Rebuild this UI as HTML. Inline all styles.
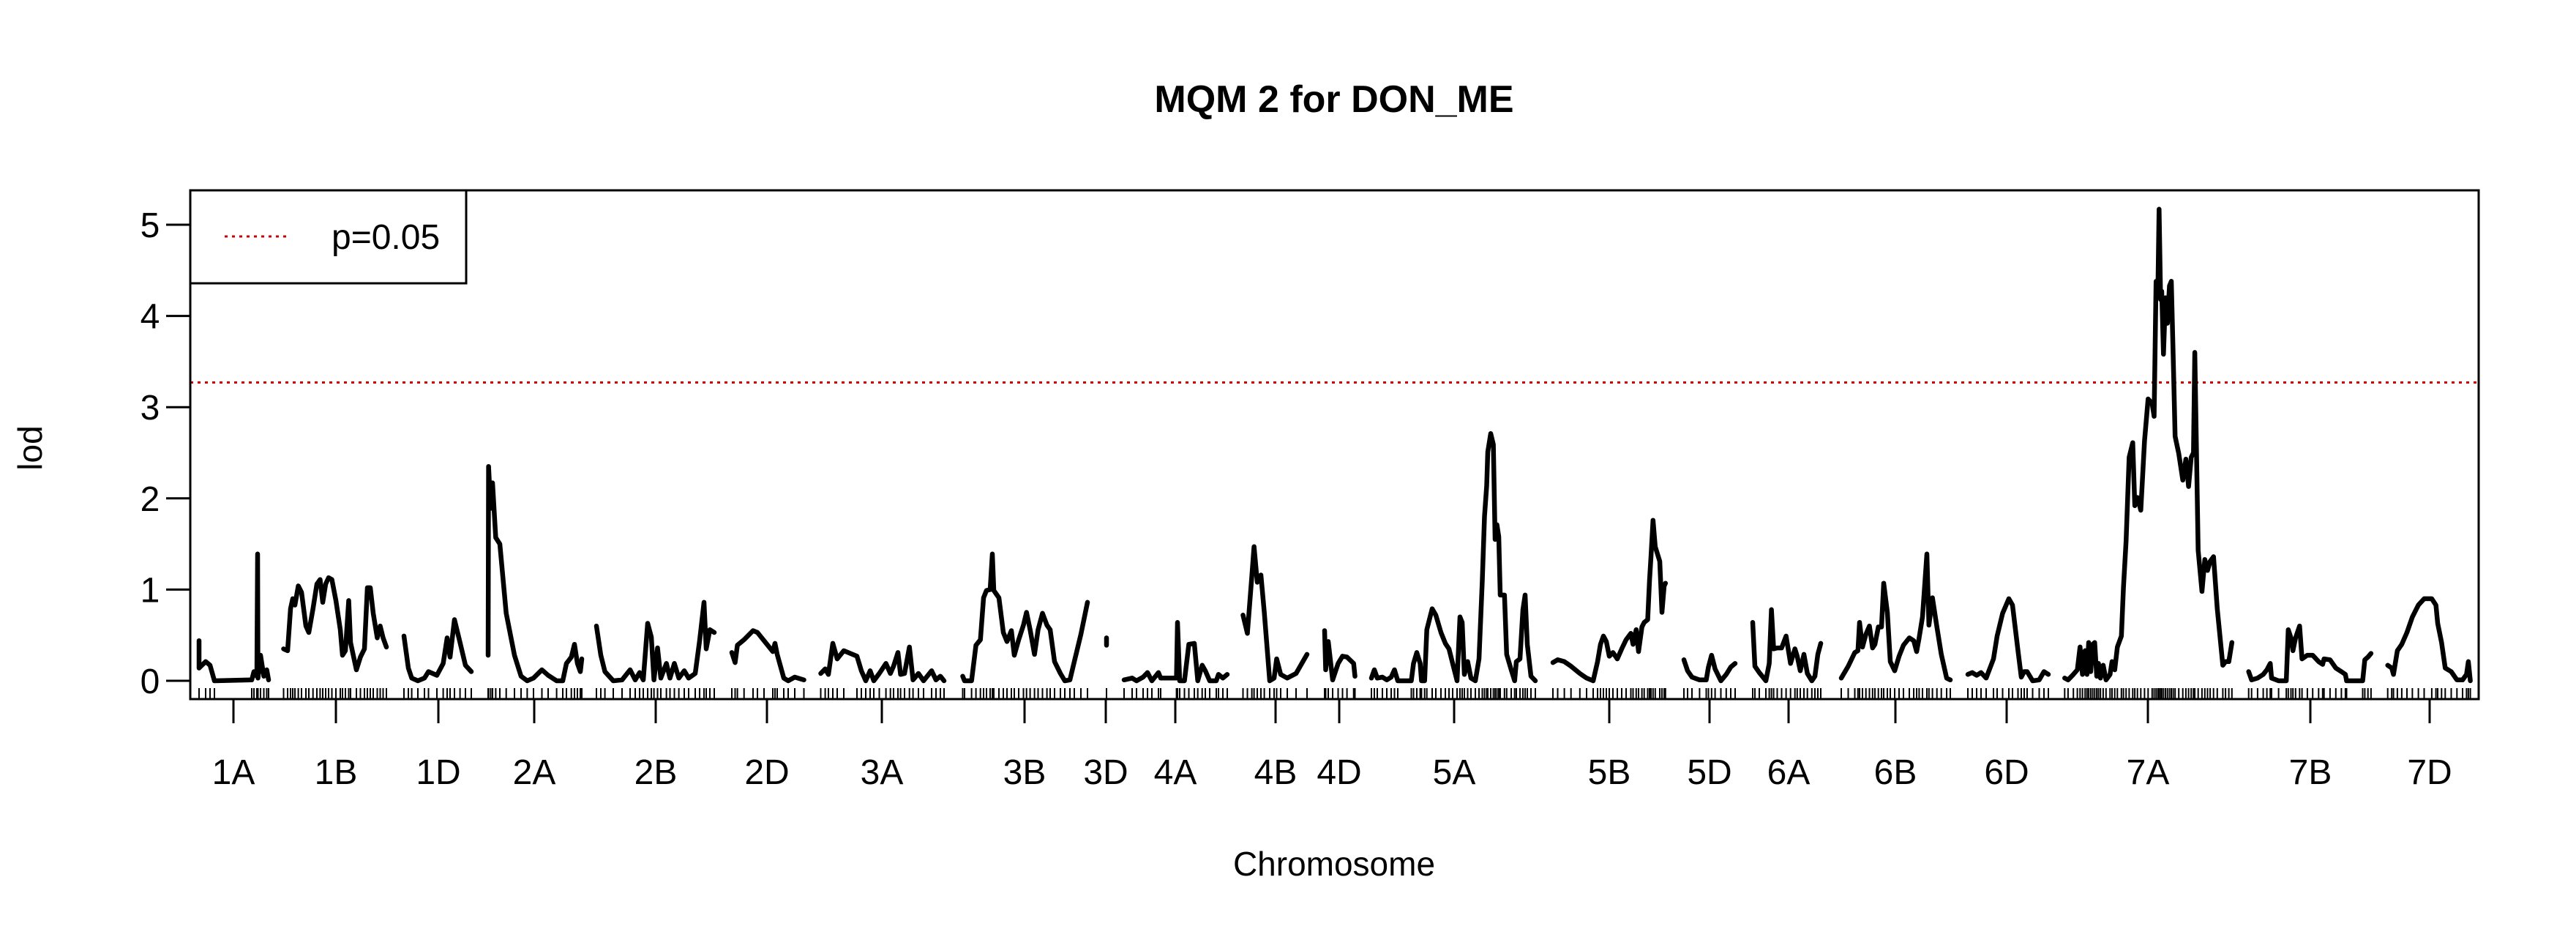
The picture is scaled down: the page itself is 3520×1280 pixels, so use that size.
<!DOCTYPE html>
<html><head><meta charset="utf-8"><style>
html,body{margin:0;padding:0;background:#fff;}
svg{display:block;font-family:"Liberation Sans",Arial,sans-serif;}
</style></head>
<body>
<svg id="chart" width="3520" height="1280" viewBox="0 0 3520 1280" xmlns="http://www.w3.org/2000/svg">
<rect width="3520" height="1280" fill="#fff"/>
<text x="1823" y="153" font-size="52" font-weight="bold" text-anchor="middle">MQM 2 for DON_ME</text>
<text x="1823" y="1196" font-size="46" text-anchor="middle">Chromosome</text>
<text transform="translate(57,612) rotate(-90)" font-size="46" text-anchor="middle">lod</text>
<g id="marks"></g>
<rect x="260" y="260" width="3127" height="695" fill="none" stroke="#000" stroke-width="3"/>
<g>
<rect x="260" y="260" width="377" height="127" fill="#fff" stroke="#000" stroke-width="3"/>
<line x1="307" y1="323" x2="396" y2="323" stroke="#d00000" stroke-width="3" stroke-dasharray="4,6"/>
<text x="453" y="340" font-size="48">p=0.05</text>
</g>
</svg>
<script>
const yTicks=[0,1,2,3,4,5];
const threshold=3.27;
const chromNames=["1A","1B","1D","2A","2B","2D","3A","3B","3D","4A","4B","4D","5A","5B","5D","6A","6B","6D","7A","7B","7D"];
const chromCenters=[319,459,599,730,896,1048,1205,1400,1511,1606,1743,1830,1987,2199,2336,2444,2590,2742,2935,3157,3320];
const pos1A=[272,272,281,287,293,344,347,351,352,352.5,356,360.5,364.5,367];
const lod1A=[0.44,0.14,0.21,0.17,0,0.01,0.10,0.05,1.39,0.03,0.28,0.05,0.12,0.01];
const pos1B=[387.5,393,397,400,403,407.6,412,418,422,427.7,433,437.4,441,445,449,453.5,459,465,468,472,476.5,479,487,492.5,498,502,506,510,515.5,519.5,523.5,528];
const lod1B=[.35,.33,.79,.90,.83,1.04,.97,.60,.53,.79,1.06,1.11,.86,1.06,1.13,1.11,.88,.56,.28,.33,.88,.42,.12,.26,.35,1.02,1.02,.74,.47,.60,.47,.37];
const pos1D=[552,558,562.6,571,580,585.5,597,605.6,611,615,621,628.6,636,644];
const lod1D=[.49,.14,.03,0,.03,.10,.06,.19,.47,.26,.67,.42,.17,.10];
const pos2A=[667,667.6,670.5,673,677.4,683,691.7,703,712,720.4,729,740.5,749,760.6,769,774,780.7,785,789,793,795];
const lod2A=[.28,2.35,1.89,2.17,1.57,1.50,.74,.28,.05,0,.03,.12,.06,0,0,.19,.26,.40,.19,.10,.24];
const pos2B=[815,821,826.6,838,850,861,868,874,879,885,890,893.6,898.5,903,910.6,915.5,921.5,927.6,935,941,950,956,962,965,970,976];
const lod2B=[.60,.28,.10,0,.01,.12,.01,.09,.01,.63,.48,.01,.36,.03,.19,.03,.19,.03,.11,.03,.08,.44,.86,.35,.56,.53];
const pos2D=[1000,1004.5,1007.6,1016.7,1029,1035,1044,1056,1059,1062,1071,1077,1086,1098.5];
const lod2D=[.31,.20,.39,.45,.55,.53,.44,.32,.41,.29,.03,0,.04,.01];
const pos3A=[1121.5,1127.6,1132,1138,1144,1153,1171,1177,1183,1189,1194,1201.5,1210.6,1216.7,1221,1227,1230.6,1236,1242.7,1247.6,1255,1262,1273,1279,1285,1290];
const lod3A=[.08,.13,.07,.41,.24,.33,.27,.11,0,.11,0,.08,.19,.08,.16,.31,.07,.08,.37,.01,.08,0,.11,.01,.05,0];
const pos3B=[1315.5,1318,1327.6,1333.6,1339.7,1344,1348,1353,1356,1358,1365,1371,1376,1382,1386,1392,1398.5,1402.7,1407.6,1413.6,1418.5,1424.5,1430.6,1435,1441,1449,1455,1462,1468,1477,1486];
const lod3B=[.05,0,0,.39,.45,.91,.99,1.0,1.39,.99,.91,.53,.43,.55,.28,.45,.61,.75,.56,.29,.56,.74,.61,.56,.21,.08,0,.01,.21,.51,.86];
const pos3D=[1512,1512];
const lod3D=[.47,.39];
const pos4A=[1536,1547,1553,1562,1568,1574,1583,1586,1607.6,1609,1612,1618.5,1624.5,1632,1636.7,1642.7,1647,1653,1662,1665,1671,1677];
const lod4A=[.01,.03,0,.04,.09,0,.09,.03,.03,.64,0,0,.40,.41,0,.17,.11,0,0,.07,.03,.07];
const pos4B=[1698.5,1704.5,1710.6,1713.6,1718,1723,1727.6,1735,1741,1744.5,1750,1759,1771,1786];
const lod4B=[.72,.52,1.15,1.47,1.08,1.16,.75,0,.03,.24,.07,.03,.08,.29];
const pos4D=[1810,1811.5,1815,1821,1828.5,1834.5,1840.6,1849.7,1851.5];
const lod4D=[.55,.12,.43,.01,.19,.27,.26,.19,.05];
const pos5A=[1874,1878,1882,1889,1895,1901,1905.5,1910,1928.5,1931.5,1936,1940.6,1942.4,1946.7,1949.7,1957,1962,1969,1975,1980,1985,1991,1995,1998,2001,2005.5,2010,2016,2021,2025.5,2028.5,2031.5,2033,2037,2040.6,2043,2045.5,2048,2050,2055.8,2058.8,2065,2069.7,2072,2077,2081,2084,2087,2092,2098];
const lod5A=[.03,.12,.03,.04,.01,.04,.12,0,0,.19,.31,.19,0,0,.56,.79,.72,.53,.41,.35,.19,0,.70,.64,.07,.21,.03,0,.24,1.10,1.80,2.14,2.51,2.71,2.59,1.55,1.71,1.58,.94,.94,.29,.12,0,.21,.24,.78,.94,.40,.05,0];
const pos5B=[2122,2128.5,2137.6,2146.7,2158.8,2168,2177,2183,2187,2191,2195,2199,2204,2210,2216,2222,2228.5,2231.5,2235.8,2239,2243.6,2246.7,2251.5,2254,2256,2258.8,2261.8,2268,2271,2274,2275.8];
const lod5B=[.20,.23,.21,.16,.08,.03,0,.21,.40,.49,.43,.27,.31,.24,.35,.45,.52,.40,.56,.32,.59,.64,.67,1.10,1.36,1.76,1.47,1.31,.75,1.04,1.07];
const pos5D=[2301,2306,2312,2322.4,2331.5,2334.5,2338.8,2343.6,2351.5,2358.8,2365,2371];
const lod5D=[.23,.11,.04,.01,.01,.15,.28,.13,0,.07,.15,.19];
const pos6A=[2395,2398,2404,2413,2417.6,2420.6,2423.6,2428.5,2434.5,2440.6,2446.7,2452.7,2455.8,2460,2465,2469.7,2475.8,2480,2484,2488];
const lod6A=[.64,.16,.09,0,.19,.78,.35,.36,.36,.49,.19,.35,.27,.11,.29,.08,0,.05,.29,.41];
const pos6B=[2516,2525.5,2534.5,2538.8,2541,2545,2549.7,2554.5,2558.8,2562,2566.7,2571,2574,2579,2583,2589,2595,2601,2609,2615,2619,2622.4,2627,2633,2635.8,2640.6,2646.7,2652.7,2660,2665];
const lod6B=[.03,.16,.31,.33,.64,.37,.51,.60,.36,.40,.59,.59,1.07,.75,.21,.11,.27,.39,.47,.44,.32,.47,.70,1.39,.61,.91,.59,.29,.03,.01];
const pos6D=[2689,2695,2701,2707,2714,2724,2729,2736.5,2745,2750,2757.5,2762,2766,2770,2777.5,2786.5,2793,2799];
const lod6D=[.07,.09,.06,.09,.03,.24,.49,.74,.90,.83,.33,.04,.10,.10,0,.01,.10,.07];
const pos7A=[2821.3,2825.9,2833.2,2838.6,2842.3,2845.6,2849.2,2851.8,2854.1,2856.9,2859.6,2862.3,2865.1,2867.5,2870.2,2873.9,2877.8,2883.3,2886,2889.7,2893.3,2898.8,2901.6,2905.2,2909.4,2914.3,2917.1,2920.7,2925.3,2930.4,2935.3,2940.8,2943.5,2946.2,2948.7,2950.3,2952.4,2953.9,2956.3,2959,2961.7,2964.5,2967,2969.6,2972.2,2977.2,2982.7,2986.9,2990.6,2994.2,2997.3,2999.1,3003.7,3008.9,3012.8,3016.5,3020.1,3024.7,3029.8,3037.4,3041.1,3045.6,3049.8];
const lod7A=[.03,.01,.07,.12,.37,.07,.33,.07,.42,.10,.40,.42,.05,.19,.03,.17,.01,.07,.21,.12,.37,.49,1.02,1.53,2.45,2.61,1.92,2.01,1.87,2.63,3.09,3.04,2.90,4.38,4.29,5.17,4.18,4.27,3.58,4.20,3.92,4.33,4.38,3.55,2.68,2.49,2.20,2.43,2.13,2.45,2.50,3.60,1.43,.98,1.33,1.21,1.31,1.36,.79,.17,.21,.21,.42];
const pos7B=[3072.7,3076.7,3084.9,3092.6,3097.6,3102.2,3104,3113.6,3124.1,3126.8,3130.5,3133.2,3136.8,3142.3,3145.6,3152.9,3160.2,3168.3,3173.8,3175.7,3183.9,3191.8,3199.4,3204.9,3206.5,3228.5,3231.4,3235.7,3239.9];
const lod7B=[.10,.01,.03,.07,.12,.19,.03,0,0,.56,.47,.33,.47,.60,.24,.28,.28,.21,.18,.24,.23,.14,.10,.07,0,0,.23,.26,.30];
const pos7D=[3262.7,3268.2,3270.6,3275.9,3281.9,3289,3296.4,3304.6,3312.5,3322.9,3328.6,3331,3336.3,3341.3,3349.5,3357.3,3365,3370.4,3372.9,3375.6];
const lod7D=[.17,.14,.07,.33,.40,.53,.70,.83,.90,.90,.83,.63,.42,.14,.10,.01,.01,.07,.21,0];

const posList=[pos1A,pos1B,pos1D,pos2A,pos2B,pos2D,pos3A,pos3B,pos3D,pos4A,pos4B,pos4D,pos5A,pos5B,pos5D,pos6A,pos6B,pos6D,pos7A,pos7B,pos7D];
const lodList=[lod1A,lod1B,lod1D,lod2A,lod2B,lod2D,lod3A,lod3B,lod3D,lod4A,lod4B,lod4D,lod5A,lod5B,lod5D,lod6A,lod6B,lod6D,lod7A,lod7B,lod7D];

const NS="http://www.w3.org/2000/svg";
const PL=260,PR=3387,PT=260,PB=955;
const xDom=[260,3387];
function xScale(p){return PL+(p-xDom[0])/(xDom[1]-xDom[0])*(PR-PL);}
function yScale(v){return 930-v*124.6;}
const g=document.getElementById('marks');
function mk(tag,attrs){const e=document.createElementNS(NS,tag);for(const k in attrs)e.setAttribute(k,attrs[k]);g.appendChild(e);return e;}

yTicks.forEach(t=>{
  const y=yScale(t);
  const tl=mk('line',{x1:PL-33,x2:PL,y1:y,y2:y,stroke:'#000','stroke-width':3});
  
  
  const tx=mk('text',{x:205,y:y+17,'font-size':48,'text-anchor':'middle'});
  
  
  tx.textContent=t;
});
const th=mk('line',{x1:PL,x2:PR,y1:yScale(threshold),y2:yScale(threshold),stroke:'#d00000','stroke-width':3,'stroke-dasharray':'4,6'});



chromNames.forEach((n,i)=>{
  const x=xScale(chromCenters[i]);
  const tl=mk('line',{x1:x,x2:x,y1:PB,y2:PB+33,stroke:'#000','stroke-width':3});
  
  
  const tx=mk('text',{x:x,y:1071,'font-size':48,'text-anchor':'middle'});
  
  
  tx.textContent=n;
  const ps=posList[i],ls=lodList[i];
  let d='';
  ps.forEach((p,j)=>{d+=(j?'L':'M')+xScale(p).toFixed(1)+','+yScale(ls[j]).toFixed(1);});
  const path=mk('path',{d:d,fill:'none',stroke:'#000','stroke-width':6.5,'stroke-linejoin':'round','stroke-linecap':'round'});
  
  
  ps.forEach(p=>{
    const r=mk('line',{x1:xScale(p),x2:xScale(p),y1:940,y2:955,stroke:'#000','stroke-width':2});
    
    
  });
});
</script>
</body></html>
